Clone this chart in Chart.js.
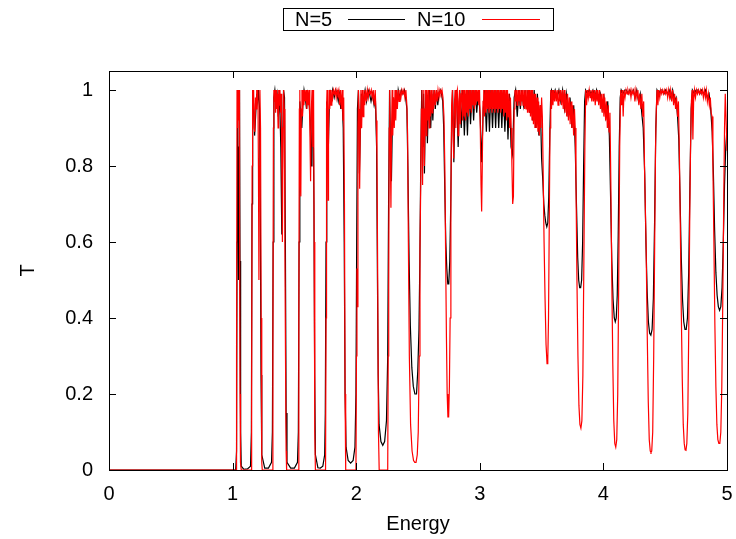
<!DOCTYPE html>
<html>
<head>
<meta charset="utf-8">
<script src="https://cdn.jsdelivr.net/npm/chart.js@4.4.1/dist/chart.umd.min.js"></script>
<style>
html,body{margin:0;padding:0;background:#fff;}
#wrap{width:736px;height:539px;position:relative;}
</style>
</head>
<body>
<div id="wrap"><canvas id="c" width="736" height="539"></canvas></div>
<script>
// ---- data (Energy, T) ----
const seriesNames = ["N=5", "N=10"];
const xTicks = [0, 1, 2, 3, 4, 5];
const yTicks = [0, 0.2, 0.4, 0.6, 0.8, 1];

const n5Points = [
[0,0],[1.025,0],[1.032,0.05],[1.036,0.6],[1.040,1.0],[1.044,0.75],[1.048,0.5],[1.052,0.85],[1.056,1.0],[1.060,0.55],[1.065,0.1],[1.070,0.01],
[1.09,0.002],[1.12,0.003],[1.145,0.01],
[1.152,0.1],[1.157,0.7],[1.162,1.0],[1.170,0.96],[1.178,0.88],[1.186,0.93],[1.195,0.99],[1.203,0.97],[1.210,1.0],[1.218,0.95],[1.224,0.7],[1.230,0.25],[1.236,0.04],
[1.26,0.005],[1.29,0.005],[1.315,0.02],
[1.322,0.1],[1.328,0.6],[1.334,0.98],[1.342,1.0],[1.350,0.97],[1.360,0.99],[1.370,0.93],[1.380,0.99],[1.390,0.85],[1.398,0.62],[1.405,0.85],[1.412,1.0],[1.420,0.98],[1.427,0.6],[1.433,0.15],[1.440,0.02],
[1.47,0.005],[1.50,0.005],[1.525,0.02],
[1.532,0.1],[1.538,0.6],[1.544,0.97],[1.552,0.93],[1.560,0.9],[1.568,0.96],[1.578,1.0],[1.588,0.98],[1.598,0.95],[1.607,0.99],[1.618,0.97],[1.628,0.92],[1.636,0.8],[1.642,0.93],[1.650,1.0],[1.658,0.7],[1.664,0.25],[1.670,0.04],
[1.69,0.006],[1.71,0.005],[1.73,0.01],[1.745,0.04],
[1.750,0.15],[1.756,0.6],[1.762,0.97],[1.768,0.92],[1.775,0.85],[1.782,0.95],[1.790,0.99],[1.800,0.97],[1.810,1.0],[1.822,0.98],[1.835,1.0],[1.845,0.99],[1.855,0.97],[1.865,0.99],[1.875,0.95],[1.885,0.98],[1.895,0.9],[1.903,0.6],[1.910,0.2],[1.918,0.06],
[1.935,0.025],[1.955,0.018],[1.975,0.025],[1.99,0.06],
[1.998,0.2],[2.004,0.6],[2.010,0.95],[2.018,1.0],[2.026,0.78],[2.034,0.9],[2.042,0.99],[2.052,0.94],[2.062,0.98],[2.072,1.0],[2.084,0.97],[2.096,1.0],[2.108,0.99],[2.120,0.97],[2.132,0.99],[2.145,0.96],[2.155,0.98],[2.165,0.85],[2.172,0.5],[2.178,0.25],[2.185,0.12],
[2.20,0.075],[2.215,0.065],[2.23,0.075],[2.245,0.13],
[2.255,0.3],[2.262,0.7],[2.270,1.0],[2.278,0.85],[2.285,0.76],[2.292,0.9],[2.300,0.98],[2.310,0.93],[2.320,0.99],[2.330,0.95],[2.340,1.0],[2.352,0.98],[2.365,1.0],[2.378,0.99],[2.390,1.0],[2.400,0.98],[2.410,0.95],[2.418,0.8],[2.428,0.55],[2.438,0.38],
[2.450,0.27],[2.462,0.22],[2.475,0.2],[2.488,0.2],[2.498,0.26],[2.508,0.37],[2.515,0.55],[2.522,0.8],[2.530,1.0],
[2.538,0.85],[2.545,0.99],[2.552,0.78],[2.560,0.95],[2.568,1.0],[2.576,0.86],[2.585,0.97],[2.594,1.0],[2.603,0.9],[2.612,0.99],[2.620,0.92],[2.630,1.0],[2.640,0.95],[2.650,1.0],[2.660,0.96],[2.670,0.99],[2.680,1.0],[2.690,0.99],[2.700,0.97],[2.708,0.9],[2.716,0.75],
[2.725,0.6],[2.733,0.53],[2.741,0.49],[2.749,0.49],[2.757,0.55],[2.765,0.7],[2.772,0.9],
[2.780,1.0],[2.790,0.81],[2.800,0.97],[2.812,1.0],[2.825,0.85],[2.838,1.0],[2.850,0.9],[2.862,1.0],[2.875,0.88],[2.888,0.99],[2.900,0.88],[2.912,1.0],[2.925,0.91],[2.938,1.0],[2.950,0.92],[2.962,1.0],[2.975,0.94],[2.990,1.0],[3.003,0.93],[3.015,0.81],[3.028,0.95],[3.040,1.0],[3.053,0.89],[3.066,1.0],[3.078,0.89],[3.090,1.0],[3.103,0.9],[3.116,1.0],[3.128,0.9],[3.140,1.0],[3.153,0.9],[3.166,1.0],[3.178,0.9],[3.190,1.0],[3.203,0.89],[3.216,1.0],[3.228,0.87],[3.240,0.99],[3.253,0.85],[3.265,0.83],[3.278,0.98],[3.290,1.0],[3.303,0.93],[3.316,1.0],[3.328,0.95],[3.340,1.0],[3.353,0.96],[3.366,1.0],[3.378,0.95],[3.390,1.0],[3.403,0.94],[3.416,1.0],[3.428,0.92],[3.440,1.0],[3.453,0.9],[3.466,0.99],[3.478,0.88],[3.490,0.96],[3.500,0.82],
[3.510,0.76],[3.518,0.7],[3.526,0.67],[3.534,0.65],[3.542,0.64],[3.550,0.65],[3.558,0.72],[3.566,0.88],[3.574,0.99],
[3.580,1.0],[3.595,0.98],[3.610,1.0],[3.625,0.98],[3.640,1.0],[3.655,0.97],[3.670,1.0],[3.685,0.95],[3.700,0.99],[3.715,0.93],[3.730,0.98],[3.745,0.9],[3.760,0.96],[3.772,0.85],
[3.782,0.7],[3.792,0.56],[3.800,0.5],[3.808,0.48],[3.816,0.48],[3.824,0.5],[3.832,0.6],[3.840,0.8],[3.848,0.97],[3.856,1.0],
[3.870,0.99],[3.885,1.0],[3.900,0.99],[3.915,1.0],[3.930,0.98],[3.945,1.0],[3.960,0.97],[3.975,0.99],[3.990,0.95],[4.005,0.98],[4.020,0.93],[4.035,0.97],[4.048,0.88],
[4.058,0.72],[4.068,0.55],[4.078,0.45],[4.088,0.4],[4.096,0.39],[4.104,0.4],[4.112,0.46],[4.120,0.62],[4.128,0.85],[4.136,0.98],[4.144,1.0],
[4.158,0.99],[4.172,1.0],[4.186,1.0],[4.200,0.99],[4.214,1.0],[4.228,0.99],[4.242,1.0],[4.256,0.98],[4.270,1.0],[4.284,0.97],[4.298,0.99],[4.310,0.94],[4.322,0.9],
[4.334,0.78],[4.344,0.6],[4.354,0.47],[4.364,0.39],[4.374,0.36],[4.384,0.355],[4.394,0.37],[4.404,0.45],[4.414,0.65],[4.424,0.9],[4.434,1.0],
[4.448,0.99],[4.462,1.0],[4.476,1.0],[4.490,0.99],[4.504,1.0],[4.518,0.99],[4.532,1.0],[4.546,0.98],[4.560,1.0],[4.574,0.97],[4.588,0.98],[4.600,0.93],[4.610,0.87],
[4.620,0.72],[4.630,0.56],[4.640,0.45],[4.650,0.39],[4.660,0.37],[4.670,0.37],[4.680,0.4],[4.690,0.52],[4.700,0.75],[4.710,0.95],[4.720,1.0],
[4.735,0.99],[4.750,1.0],[4.765,1.0],[4.780,0.99],[4.795,1.0],[4.810,0.99],[4.825,1.0],[4.840,0.98],[4.855,0.99],[4.868,0.95],[4.880,0.89],
[4.890,0.78],[4.900,0.63],[4.910,0.52],[4.920,0.46],[4.930,0.43],[4.940,0.42],[4.950,0.43],[4.960,0.48],[4.970,0.6],[4.980,0.75],[4.990,0.85],[5.0,0.9]
];

const n10Points = [
[0,0],[1.028,0],[1.032,0.3],[1.036,1.0],[1.040,0.9],[1.044,1.0],[1.048,0.92],[1.052,1.0],[1.056,0.7],[1.060,0.2],[1.064,0.02],[1.07,0],
[1.15,0],[1.154,0.2],[1.158,0.8],[1.162,1.0],[1.166,0.95],[1.170,1.0],[1.175,0.9],[1.180,0.89],[1.185,0.98],[1.190,0.95],[1.195,1.0],[1.200,0.97],[1.205,1.0],[1.209,0.8],[1.213,0.5],[1.217,0.8],[1.221,1.0],[1.226,0.9],[1.231,0.4],[1.236,0.02],[1.24,0],
[1.322,0],[1.326,0.3],[1.330,0.9],[1.334,1.0],[1.338,0.97],[1.343,1.0],[1.348,0.94],[1.353,1.0],[1.358,0.95],[1.363,0.99],[1.368,0.9],[1.373,1.0],[1.378,0.96],[1.383,1.0],[1.388,0.94],[1.393,0.99],[1.398,0.8],[1.403,0.6],[1.408,0.9],[1.413,1.0],[1.418,0.95],[1.423,0.6],[1.428,0.3],[1.433,0.05],[1.437,0],
[1.532,0],[1.536,0.4],[1.540,0.95],[1.544,1.0],[1.548,0.75],[1.552,0.72],[1.556,0.95],[1.561,1.0],[1.566,0.93],[1.571,1.0],[1.577,0.96],[1.583,1.0],[1.589,0.97],[1.595,1.0],[1.601,0.95],[1.607,1.0],[1.613,0.96],[1.619,1.0],[1.625,0.9],[1.631,0.76],[1.637,0.95],[1.643,1.0],[1.649,0.85],[1.655,1.0],[1.660,0.6],[1.665,0.1],[1.67,0],
[1.752,0],[1.756,0.4],[1.760,0.95],[1.764,1.0],[1.768,0.85],[1.772,0.71],[1.776,0.9],[1.781,1.0],[1.786,0.95],[1.791,1.0],[1.797,0.96],[1.803,1.0],[1.810,0.98],[1.817,1.0],[1.824,0.99],[1.831,1.0],[1.838,0.98],[1.845,1.0],[1.852,0.99],[1.859,1.0],[1.866,0.96],[1.873,1.0],[1.880,0.95],[1.887,1.0],[1.893,0.92],[1.899,0.98],[1.905,0.7],[1.910,0.2],[1.915,0],
[1.998,0],[2.002,0.3],[2.006,0.53],[2.010,0.43],[2.014,0.9],[2.018,1.0],[2.023,0.95],[2.028,0.74],[2.033,0.9],[2.038,1.0],[2.044,0.9],[2.050,1.0],[2.056,0.93],[2.062,1.0],[2.069,0.96],[2.076,1.0],[2.083,0.97],[2.090,1.0],[2.098,0.98],[2.106,1.0],[2.114,0.99],[2.122,1.0],[2.130,0.98],[2.138,1.0],[2.146,0.96],[2.154,1.0],[2.162,0.92],[2.168,0.83],[2.174,0.5],[2.180,0.1],[2.186,0],
[2.255,0],[2.259,0.3],[2.263,0.48],[2.267,0.9],[2.271,1.0],[2.276,0.85],[2.281,0.69],[2.286,0.9],[2.291,1.0],[2.296,0.88],[2.302,0.98],[2.308,0.9],[2.314,1.0],[2.320,0.92],[2.326,1.0],[2.333,0.95],[2.340,1.0],[2.347,0.97],[2.354,1.0],[2.362,0.98],[2.370,1.0],[2.378,0.99],[2.386,1.0],[2.394,0.98],[2.402,1.0],[2.410,0.96],[2.416,0.88],[2.422,0.6],[2.430,0.3],[2.440,0.12],
[2.452,0.05],[2.464,0.025],[2.474,0.02],[2.484,0.02],[2.494,0.04],[2.502,0.1],[2.510,0.3],[2.516,0.58],[2.522,0.75],
[2.527,0.95],[2.532,1.0],[2.537,0.75],[2.542,0.95],[2.547,1.0],[2.552,0.8],[2.557,0.95],[2.562,1.0],[2.567,0.88],[2.572,1.0],[2.578,0.92],[2.584,1.0],[2.590,0.9],[2.596,1.0],[2.602,0.93],[2.608,1.0],[2.614,0.94],[2.620,1.0],[2.627,0.95],[2.634,1.0],[2.641,0.96],[2.648,1.0],[2.655,0.97],[2.662,1.0],[2.670,0.98],[2.678,1.0],[2.686,0.99],[2.694,1.0],[2.702,0.98],[2.710,0.93],[2.717,0.8],[2.724,0.55],
[2.730,0.35],[2.736,0.2],[2.742,0.14],[2.748,0.14],[2.754,0.22],[2.760,0.4],[2.766,0.7],[2.772,0.96],
[2.778,1.0],[2.784,0.88],[2.789,0.82],[2.794,0.96],[2.800,1.0],[2.806,0.9],[2.812,0.99],[2.818,1.0],[2.824,0.88],[2.830,0.97],[2.836,1.0],[2.842,0.91],[2.848,0.99],[2.854,1.0],[2.860,0.92],[2.866,1.0],[2.872,0.93],[2.878,1.0],[2.884,0.92],[2.890,1.0],[2.896,0.94],[2.902,1.0],[2.908,0.93],[2.914,1.0],[2.920,0.95],[2.926,1.0],[2.932,0.94],[2.938,1.0],[2.944,0.96],[2.950,1.0],[2.956,0.95],[2.962,1.0],[2.968,0.96],[2.974,1.0],[2.980,0.97],[2.986,1.0],[2.992,0.96],[2.998,1.0],[3.004,0.9],[3.010,0.75],[3.015,0.68],[3.020,0.8],[3.026,0.97],[3.032,1.0],[3.038,0.93],[3.044,1.0],[3.050,0.94],[3.056,1.0],[3.062,0.95],[3.068,1.0],[3.074,0.94],[3.080,1.0],[3.086,0.95],[3.092,1.0],[3.098,0.94],[3.104,1.0],[3.110,0.95],[3.116,1.0],[3.122,0.94],[3.128,1.0],[3.134,0.95],[3.140,1.0],[3.146,0.94],[3.152,1.0],[3.158,0.95],[3.164,1.0],[3.170,0.94],[3.176,1.0],[3.182,0.95],[3.188,1.0],[3.194,0.93],[3.200,1.0],[3.206,0.94],[3.212,1.0],[3.218,0.92],[3.224,1.0],[3.230,0.93],[3.236,0.99],[3.242,0.9],[3.248,0.98],[3.254,0.9],[3.260,0.8],[3.266,0.7],[3.272,0.72],[3.278,0.95],[3.284,1.0],[3.290,0.97],[3.296,1.0],[3.302,0.96],[3.308,1.0],[3.314,0.97],[3.320,1.0],[3.326,0.96],[3.332,1.0],[3.338,0.97],[3.344,1.0],[3.350,0.96],[3.356,1.0],[3.362,0.95],[3.368,1.0],[3.374,0.95],[3.380,1.0],[3.386,0.94],[3.392,1.0],[3.398,0.94],[3.404,1.0],[3.410,0.93],[3.416,1.0],[3.422,0.92],[3.428,1.0],[3.434,0.91],[3.440,0.99],[3.446,0.9],[3.452,0.99],[3.458,0.9],[3.464,0.98],[3.470,0.89],[3.476,0.97],[3.482,0.88],[3.488,0.96],[3.494,0.9],[3.500,0.98],[3.506,0.93],[3.512,0.8],
[3.520,0.6],[3.528,0.45],[3.536,0.33],[3.544,0.28],[3.550,0.29],[3.556,0.4],[3.562,0.65],[3.568,0.9],[3.574,1.0],
[3.580,0.95],[3.586,1.0],[3.592,0.96],[3.598,1.0],[3.605,0.97],[3.612,1.0],[3.619,0.97],[3.626,1.0],[3.633,0.96],[3.640,1.0],[3.647,0.97],[3.654,1.0],[3.661,0.96],[3.668,1.0],[3.675,0.95],[3.682,1.0],[3.689,0.94],[3.696,0.99],[3.703,0.93],[3.710,0.99],[3.717,0.92],[3.724,0.98],[3.731,0.91],[3.738,0.97],[3.745,0.9],[3.752,0.96],[3.759,0.88],[3.766,0.95],[3.772,0.9],[3.778,0.76],
[3.786,0.5],[3.794,0.3],[3.802,0.17],[3.810,0.12],[3.818,0.11],[3.826,0.13],[3.834,0.25],[3.842,0.55],[3.850,0.85],[3.857,1.0],
[3.864,0.96],[3.871,1.0],[3.878,0.98],[3.885,1.0],[3.892,0.98],[3.899,1.0],[3.906,0.97],[3.913,1.0],[3.920,0.97],[3.927,1.0],[3.934,0.96],[3.941,1.0],[3.948,0.97],[3.955,1.0],[3.962,0.96],[3.969,1.0],[3.976,0.95],[3.983,0.99],[3.990,0.94],[3.997,0.99],[4.004,0.93],[4.011,0.98],[4.018,0.92],[4.025,0.97],[4.032,0.9],[4.039,0.96],[4.046,0.89],[4.053,0.94],[4.060,0.76],
[4.068,0.5],[4.076,0.28],[4.084,0.13],[4.092,0.07],[4.100,0.06],[4.108,0.08],[4.116,0.2],[4.124,0.5],[4.132,0.85],[4.140,1.0],
[4.147,0.96],[4.154,1.0],[4.160,0.93],[4.167,1.0],[4.175,0.98],[4.183,1.0],[4.191,0.99],[4.199,1.0],[4.207,0.99],[4.215,1.0],[4.223,0.98],[4.231,1.0],[4.239,0.99],[4.247,1.0],[4.255,0.97],[4.263,1.0],[4.271,0.98],[4.279,1.0],[4.287,0.96],[4.295,0.99],[4.303,0.95],[4.311,0.99],[4.319,0.93],[4.326,0.97],[4.333,0.79],
[4.345,0.6],[4.355,0.35],[4.363,0.18],[4.371,0.08],[4.379,0.05],[4.385,0.047],[4.391,0.05],[4.399,0.1],[4.407,0.3],[4.415,0.6],[4.422,0.85],[4.428,0.95],[4.434,1.0],
[4.441,0.96],[4.448,1.0],[4.456,0.98],[4.464,1.0],[4.472,0.99],[4.480,1.0],[4.488,0.99],[4.496,1.0],[4.504,0.99],[4.512,1.0],[4.520,0.98],[4.528,1.0],[4.536,0.98],[4.544,1.0],[4.552,0.97],[4.560,1.0],[4.568,0.96],[4.576,0.99],[4.584,0.95],[4.592,0.98],[4.600,0.93],[4.607,0.97],[4.614,0.85],
[4.622,0.65],[4.630,0.42],[4.638,0.24],[4.646,0.12],[4.654,0.07],[4.661,0.053],[4.668,0.052],[4.675,0.07],[4.683,0.15],[4.691,0.38],[4.699,0.68],[4.706,0.87],[4.712,0.97],[4.718,1.0],
[4.724,0.87],[4.730,0.97],[4.737,1.0],[4.745,0.98],[4.753,1.0],[4.761,0.99],[4.769,1.0],[4.777,0.99],[4.785,1.0],[4.793,0.99],[4.801,1.0],[4.809,0.98],[4.817,1.0],[4.825,0.98],[4.833,1.0],[4.841,0.97],[4.849,0.99],[4.857,0.96],[4.865,0.98],[4.872,0.94],[4.879,0.93],[4.886,0.8],
[4.894,0.6],[4.902,0.38],[4.910,0.22],[4.918,0.12],[4.926,0.08],[4.934,0.07],[4.942,0.07],[4.950,0.1],[4.958,0.22],[4.966,0.45],[4.974,0.72],[4.980,0.9],[4.986,0.99],[4.993,0.92],[5.0,0.84]
];

const seriesColors = ["#000000", "#ff0000"];
const FONT = "'Liberation Sans', Arial, sans-serif";

function toXY(arr){ return arr.map(p => ({x:p[0], y:p[1]})); }

const frameAndTicks = {
  id: 'frameAndTicks',
  afterDatasetsDraw(chart){
    const {ctx, chartArea:a, scales} = chart;
    ctx.save();
    ctx.strokeStyle = '#000';
    ctx.lineWidth = 1;
    ctx.strokeRect(Math.round(a.left)+0.5, Math.round(a.top)+0.5, Math.round(a.right-a.left), Math.round(a.bottom-a.top));
    const L = 7;
    ctx.beginPath();
    xTicks.forEach(v => {
      const px = Math.round(scales.x.getPixelForValue(v)) + 0.5;
      ctx.moveTo(px, a.bottom); ctx.lineTo(px, a.bottom - L);
      ctx.moveTo(px, a.top); ctx.lineTo(px, a.top + L);
    });
    yTicks.forEach(v => {
      const py = Math.round(scales.y.getPixelForValue(v)) + 0.5;
      ctx.moveTo(a.left, py); ctx.lineTo(a.left + L, py);
      ctx.moveTo(a.right, py); ctx.lineTo(a.right - L, py);
    });
    ctx.stroke();
    ctx.restore();
  }
};

const keyBox = {
  id: 'keyBox',
  afterDraw(chart){
    const ctx = chart.ctx;
    ctx.save();
    ctx.strokeStyle = '#000'; ctx.lineWidth = 1;
    ctx.strokeRect(283.5, 8.5, 270, 22);
    ctx.font = '20px ' + FONT;
    ctx.fillStyle = '#000';
    ctx.textBaseline = 'middle';
    ctx.textAlign = 'left';
    ctx.fillText(seriesNames[0], 295, 20);
    ctx.fillText(seriesNames[1], 417, 20);
    ctx.lineWidth = 1;
    ctx.strokeStyle = seriesColors[0];
    ctx.beginPath(); ctx.moveTo(348, 19.5); ctx.lineTo(405, 19.5); ctx.stroke();
    ctx.strokeStyle = seriesColors[1];
    ctx.beginPath(); ctx.moveTo(482, 19.5); ctx.lineTo(540, 19.5); ctx.stroke();
    ctx.restore();
  }
};

new Chart(document.getElementById('c'), {
  type: 'line',
  data: {
    datasets: [
      { label: seriesNames[1], data: toXY(n10Points), borderColor: seriesColors[1], borderWidth: 1.2, pointRadius: 0, tension: 0, fill: false, order: 0 },
      { label: seriesNames[0], data: toXY(n5Points), borderColor: seriesColors[0], borderWidth: 1.2, pointRadius: 0, tension: 0, fill: false, order: 1 }
    ]
  },
  options: {
    responsive: false,
    animation: false,
    events: [],
    layout: { padding: { top: 71, right: 9, left: 0, bottom: 0 } },
    plugins: { legend: { display: false }, tooltip: { enabled: false } },
    scales: {
      x: {
        type: 'linear', min: 0, max: 5,
        afterFit(s){ s.height = 69; s.paddingLeft = 0; s.paddingRight = 0; },
        afterBuildTicks(s){ s.ticks = xTicks.map(v => ({value:v})); },
        grid: { display: false, drawTicks: false },
        border: { display: false },
        ticks: { padding: 12, color: '#000', font: { family: FONT, size: 20 }, maxRotation: 0 },
        title: { display: true, text: 'Energy', color: '#000', font: { family: FONT, size: 20 }, padding: { top: 0, bottom: 3 } }
      },
      y: {
        type: 'linear', min: 0, max: 1.05,
        afterFit(s){ s.width = 109; s.paddingTop = 0; s.paddingBottom = 0; },
        afterBuildTicks(s){ s.ticks = yTicks.map(v => ({value:v})); },
        grid: { display: false, drawTicks: false },
        border: { display: false },
        ticks: { padding: 16, color: '#000', font: { family: FONT, size: 20 }, callback: v => String(v) },
        title: { display: true, text: 'T', color: '#000', font: { family: FONT, size: 20 }, padding: { top: 16, bottom: 0 } }
      }
    }
  },
  plugins: [frameAndTicks, keyBox]
});
</script>
</body>
</html>
